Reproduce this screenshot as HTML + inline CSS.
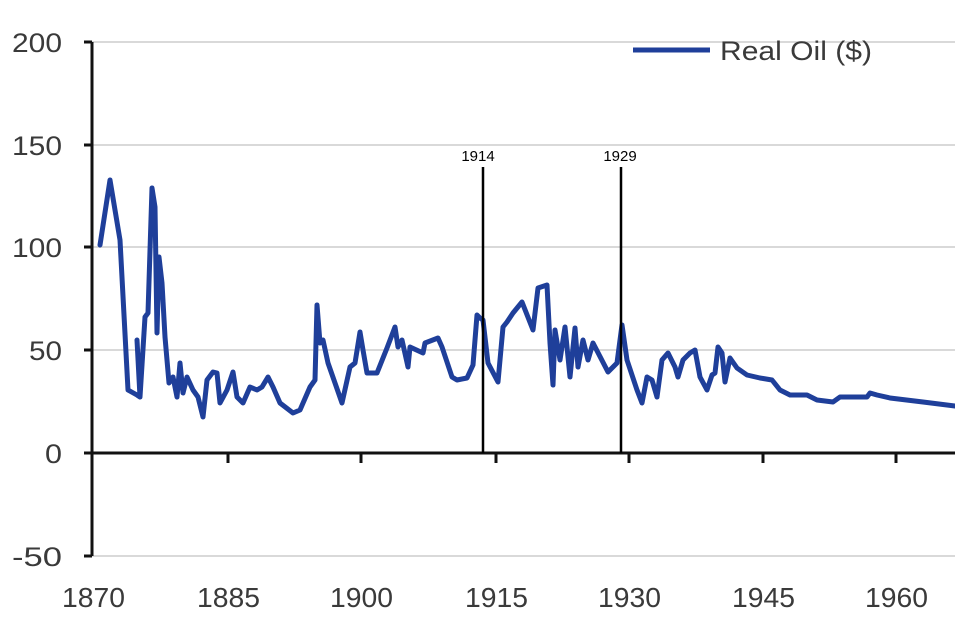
<!DOCTYPE html>
<html><head><meta charset="utf-8"><style>
html,body{margin:0;padding:0;background:#fff;}
svg{display:block;}
text{font-family:"Liberation Sans",sans-serif;}
</style></head><body>
<svg width="955" height="637" viewBox="0 0 955 637" xmlns="http://www.w3.org/2000/svg">
<g stroke="#d9d9d9" stroke-width="2">
<line x1="92" y1="42" x2="955" y2="42"/>
<line x1="92" y1="145" x2="955" y2="145"/>
<line x1="92" y1="247" x2="955" y2="247"/>
<line x1="92" y1="350" x2="955" y2="350"/>
<line x1="92" y1="556" x2="955" y2="556"/>
</g>
<g stroke="#111" stroke-width="3">
<line x1="92" y1="42" x2="92" y2="556"/>
<line x1="92" y1="453" x2="955" y2="453"/>
<line x1="84" y1="42" x2="92" y2="42"/>
<line x1="84" y1="145" x2="92" y2="145"/>
<line x1="84" y1="247" x2="92" y2="247"/>
<line x1="84" y1="350" x2="92" y2="350"/>
<line x1="84" y1="453" x2="92" y2="453"/>
<line x1="84" y1="556" x2="92" y2="556"/>
<line x1="228" y1="453" x2="228" y2="463"/>
<line x1="361" y1="453" x2="361" y2="463"/>
<line x1="496" y1="453" x2="496" y2="463"/>
<line x1="629" y1="453" x2="629" y2="463"/>
<line x1="763" y1="453" x2="763" y2="463"/>
<line x1="896" y1="453" x2="896" y2="463"/>
</g>
<g fill="#3a3a3a" font-size="27">
<text x="12" y="52" textLength="50" lengthAdjust="spacingAndGlyphs">200</text>
<text x="12" y="155" textLength="50" lengthAdjust="spacingAndGlyphs">150</text>
<text x="12" y="257" textLength="50" lengthAdjust="spacingAndGlyphs">100</text>
<text x="29" y="360" textLength="33" lengthAdjust="spacingAndGlyphs">50</text>
<text x="45" y="463" textLength="17" lengthAdjust="spacingAndGlyphs">0</text>
<text x="12" y="566" textLength="50" lengthAdjust="spacingAndGlyphs">-50</text>
</g>
<g fill="#3a3a3a" font-size="28">
<text x="62" y="607" textLength="63" lengthAdjust="spacingAndGlyphs">1870</text>
<text x="197" y="607" textLength="63" lengthAdjust="spacingAndGlyphs">1885</text>
<text x="330" y="607" textLength="63" lengthAdjust="spacingAndGlyphs">1900</text>
<text x="465" y="607" textLength="63" lengthAdjust="spacingAndGlyphs">1915</text>
<text x="598" y="607" textLength="63" lengthAdjust="spacingAndGlyphs">1930</text>
<text x="732" y="607" textLength="63" lengthAdjust="spacingAndGlyphs">1945</text>
<text x="865" y="607" textLength="63" lengthAdjust="spacingAndGlyphs">1960</text>
</g>
<polyline fill="none" stroke="#1f3f9a" stroke-width="5" stroke-linejoin="round" stroke-linecap="round" points="
100,245 110,180 120,240 128,390 137,395 140,397 137,340 140,397 145,317 148,313 152,188 155,207 157,333 159,257 162,283 165,337 169,383 173,377 177,397 180,363 183,393 187,377 193,390 198,397 203,417 207,380 213,372 217,373 220,403 227,390 233,372 237,397 243,403 250,387 257,390 262,387 268,377 273,387 280,403 293,413 300,410 310,387 315,380 317,305 320,343 323,340 328,363 342,403 350,367 355,363 360,332 363,350 367,373 373,373
377,373 387,348 395,327 398,347 402,340 408,367 410,347 423,353 425,343 438,338 442,347 452,377 457,380 467,378 473,365 477,315 480,318 483,320 488,363 498,382 503,327 507,322 513,313 522,302 533,330 538,288 547,285 550,343 553,385 555,330 560,360 565,327 570,377 575,328 578,367 583,340 588,360 593,343 608,372 617,363 622,325 627,360 637,390 642,403 647,377 652,380 657,397 662,360 668,353 675,367 678,377 683,360 690,353 695,350 700,377 707,390 712,375 715,373 718,347 722,353 725,382 730,358 737,368 747,375 760,378 772,380 780,390 790,395 807,395 817,400 833,402 840,397 867,397 870,393 877,395 890,398 923,402 955,406"/>
<g stroke="#000" stroke-width="2.5">
<line x1="483" y1="167" x2="483" y2="453"/>
<line x1="621" y1="167" x2="621" y2="453"/>
</g>
<g fill="#000" font-size="15" text-anchor="middle">
<text x="478" y="161">1914</text>
<text x="620" y="161">1929</text>
</g>
<line x1="633" y1="50" x2="710" y2="50" stroke="#1f3f9a" stroke-width="5"/>
<text x="720" y="60" fill="#3a3a3a" font-size="27" textLength="152" lengthAdjust="spacingAndGlyphs">Real Oil ($)</text>
</svg>
</body></html>
